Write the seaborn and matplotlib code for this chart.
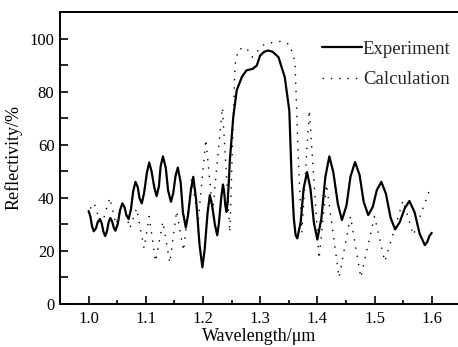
import matplotlib

matplotlib.use("Agg")
import matplotlib.pyplot as plt
import pandas as pd
import seaborn as sns
from matplotlib.ticker import MultipleLocator

# measured reflectivity (solid)
EXP_WL = [
    1.000, 1.003, 1.006, 1.009, 1.013, 1.016, 1.020, 1.023, 1.026, 1.029,
    1.032, 1.035, 1.038, 1.041, 1.044, 1.047, 1.051, 1.055, 1.059, 1.063,
    1.066, 1.070, 1.074, 1.078, 1.082, 1.086, 1.089, 1.093, 1.097, 1.102,
    1.106, 1.110, 1.115, 1.119, 1.123, 1.126, 1.130, 1.135, 1.139, 1.144,
    1.148, 1.152, 1.156, 1.161, 1.165, 1.170, 1.174, 1.179, 1.183, 1.188,
    1.194, 1.199, 1.203, 1.208, 1.212, 1.216, 1.221, 1.225, 1.228, 1.232,
    1.235, 1.237, 1.239, 1.241, 1.243, 1.245, 1.247, 1.253, 1.259, 1.268,
    1.276, 1.287, 1.294, 1.300, 1.307, 1.314, 1.322, 1.332, 1.343, 1.351,
    1.355, 1.359, 1.362, 1.365, 1.371, 1.376, 1.382, 1.388, 1.394, 1.400,
    1.407, 1.414, 1.421, 1.428, 1.436, 1.443, 1.451, 1.458, 1.466, 1.474,
    1.481, 1.489, 1.497, 1.504, 1.512, 1.520, 1.528, 1.536, 1.544, 1.553,
    1.561, 1.570, 1.579, 1.588, 1.592, 1.596, 1.600,
]
EXP_R = [
    35.0, 33.1, 29.3, 27.4, 28.6, 30.9, 32.0, 30.4, 27.2, 25.6,
    27.3, 30.7, 32.4, 31.2, 28.8, 27.6, 30.2, 35.3, 37.9, 36.4,
    33.5, 32.0, 35.5, 42.5, 46.0, 44.0, 39.9, 37.9, 41.8, 49.5,
    53.3, 50.1, 43.8, 40.6, 44.4, 51.9, 55.6, 51.3, 42.8, 38.5,
    41.7, 48.2, 51.4, 45.8, 34.5, 28.8, 33.6, 43.1, 47.9, 39.4,
    22.3, 13.8, 20.6, 34.2, 41.0, 37.2, 29.7, 25.9, 30.7, 40.2,
    45.0, 42.4, 37.3, 34.7, 38.0, 45.0, 54.0, 70.4, 80.5, 85.5,
    88.0, 88.6, 89.8, 93.6, 95.0, 95.5, 95.0, 93.0, 85.5, 72.9,
    48.0, 32.0, 26.0, 24.7, 31.0, 43.5, 49.7, 43.4, 30.6, 24.3,
    32.1, 47.8, 55.6, 49.6, 37.6, 31.6, 37.1, 48.0, 53.5, 48.5,
    38.5, 33.5, 36.6, 42.9, 46.0, 41.5, 32.6, 28.1, 30.8, 36.1,
    38.8, 34.6, 26.4, 22.2, 23.3, 25.6, 26.8,
]

# calculated reflectivity (dotted)
CALC_WL = [
    1.003, 1.010, 1.022, 1.037, 1.048, 1.060, 1.072, 1.084, 1.097, 1.106,
    1.117, 1.130, 1.142, 1.154, 1.166, 1.180, 1.192, 1.205, 1.217, 1.234,
    1.247, 1.256, 1.262, 1.276, 1.286, 1.305, 1.323, 1.338, 1.352, 1.361,
    1.367, 1.373, 1.386, 1.403, 1.416, 1.438, 1.458, 1.476, 1.500, 1.518,
    1.550, 1.568, 1.598,
]
CALC_R = [
    36.0, 38.0, 29.0, 40.0, 30.0, 38.5, 28.5, 36.0, 21.0, 33.0,
    16.0, 31.0, 15.5, 35.0, 20.0, 47.0, 32.0, 62.0, 35.0, 74.0,
    27.0, 90.0, 96.0, 96.5, 93.0, 97.5, 98.6, 99.0, 97.7, 91.0,
    53.0, 27.0, 73.0, 17.0, 45.0, 10.0, 33.0, 10.0, 33.0, 16.0,
    39.0, 26.0, 44.0,
]

X_TICKS = [1.0, 1.1, 1.2, 1.3, 1.4, 1.5, 1.6]
Y_TICKS = [0, 20, 40, 60, 80, 100]

sns.set_theme(style="ticks")
plt.rcParams["font.family"] = ["Liberation Serif", "DejaVu Serif"]

exp_df = pd.DataFrame({"wl": EXP_WL, "r": EXP_R})
calc_df = pd.DataFrame({"wl": CALC_WL, "r": CALC_R})

fig = plt.figure(figsize=(4.58, 3.47), dpi=100)
ax = fig.add_axes([60 / 458, 43 / 347, 398 / 458, 292 / 347])

sns.lineplot(data=exp_df, x="wl", y="r", ax=ax, color="black", lw=1.6,
             estimator=None, label="Experiment")
sns.lineplot(data=calc_df, x="wl", y="r", ax=ax, color="black", lw=1.0,
             ls=(0, (1, 5)), estimator=None, label="Calculation")

ax.set_xlim(0.95, 1.646)
ax.set_ylim(0, 110)
ax.set_xticks(X_TICKS)
ax.set_xticklabels([f"{v:.1f}" for v in X_TICKS])
ax.set_yticks(Y_TICKS)
ax.xaxis.set_minor_locator(MultipleLocator(0.05))
ax.yaxis.set_minor_locator(MultipleLocator(10))

ax.tick_params(axis="both", which="both", direction="in", labelsize=12,
               color="black", labelcolor="black", width=1.2)
ax.tick_params(axis="x", which="major", length=6, pad=5)
ax.tick_params(axis="x", which="minor", length=3)
ax.tick_params(axis="y", which="both", length=6, pad=4)

for side in ("left", "bottom", "top"):
    ax.spines[side].set_linewidth(1.4)
    ax.spines[side].set_color("black")
ax.spines["right"].set_visible(False)

ax.set_xlabel("Wavelength/μm", fontsize=13, color="black", labelpad=1)
ax.set_ylabel("Reflectivity/%", fontsize=13, color="black", labelpad=5)

ax.legend(loc="upper left", bbox_to_anchor=(0.658, 0.902), frameon=False,
          fontsize=13.5, handlelength=2.13, handletextpad=0.05,
          labelspacing=0.72, borderpad=0, borderaxespad=0)

fig.savefig("out.png", dpi=100, facecolor="white")
